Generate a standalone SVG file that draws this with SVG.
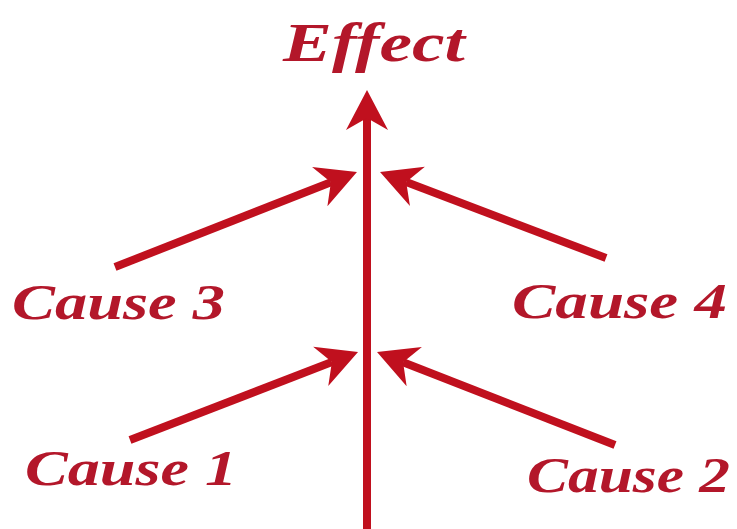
<svg xmlns="http://www.w3.org/2000/svg" width="737" height="529" viewBox="0 0 737 529">
  <style>
    .lbl { font-family: "Liberation Serif", "DejaVu Serif", serif; font-style: italic; font-weight: bold; fill: #b3172a; }
    .conn { stroke: #c0101e; stroke-width: 8; fill: none; marker-end: url(#head); }
  </style>
  <defs>
    <marker id="head" viewBox="0 -25 50 50" markerUnits="userSpaceOnUse" markerWidth="50" markerHeight="50" refX="14" refY="0" orient="auto">
      <path d="M42,0 L2,-21 L14,0 L2,21 Z" fill="#c0101e"/>
    </marker>
  </defs>
  <rect width="737" height="529" fill="#ffffff"/>
  <g id="connectors">
    <line class="conn" x1="367" y1="529" x2="367" y2="118"/>
    <line class="conn" x1="115" y1="267" x2="330.9" y2="182.2"/>
    <line class="conn" x1="606" y1="258" x2="406.2" y2="182"/>
    <line class="conn" x1="130" y1="440" x2="331.9" y2="362.1"/>
    <line class="conn" x1="615" y1="445" x2="403.1" y2="362.2"/>
  </g>
  <g id="effect">
    <text class="lbl" x="283" y="61" font-size="54" textLength="182" lengthAdjust="spacingAndGlyphs">Effect</text>
  </g>
  <g id="cause3">
    <text class="lbl" x="12" y="319" font-size="50" textLength="213" lengthAdjust="spacingAndGlyphs">Cause 3</text>
  </g>
  <g id="cause4">
    <text class="lbl" x="512" y="318" font-size="50" textLength="215" lengthAdjust="spacingAndGlyphs">Cause 4</text>
  </g>
  <g id="cause1">
    <text class="lbl" x="25" y="485" font-size="50" textLength="212" lengthAdjust="spacingAndGlyphs">Cause 1</text>
  </g>
  <g id="cause2">
    <text class="lbl" x="527" y="492" font-size="50" textLength="203" lengthAdjust="spacingAndGlyphs">Cause 2</text>
  </g>
</svg>
